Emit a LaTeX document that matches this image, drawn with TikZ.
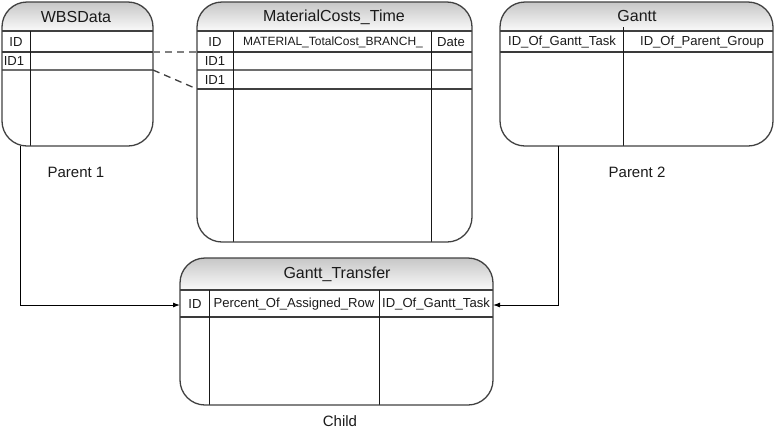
\documentclass[tikz,border=0pt]{standalone}
\usepackage{fontspec}
\setmainfont{Liberation Sans}
\usetikzlibrary{arrows.meta}
\definecolor{txt}{HTML}{1A1A1A}
\definecolor{bord}{HTML}{404040}
\definecolor{rowline}{HTML}{6E6E6E}
\tikzset{
  tbl/.style={draw=bord, line width=1.3pt, rounded corners=25pt, inner sep=0pt, outer sep=0pt, rectangle},
  band/.style={top color=black!22, bottom color=black!2},
  ttl/.style={text=txt, font=\fontsize{16}{18}\selectfont, inner sep=0pt},
  fld/.style={text=txt, font=\fontsize{13.1}{15}\selectfont, inner sep=0pt},
  lbl/.style={text=txt, font=\fontsize{15}{17}\selectfont, inner sep=0pt},
  sepline/.style={draw=bord, line width=1.1pt},
  hdline/.style={draw=bord!90!black, line width=2pt},
  rline/.style={draw=rowline, line width=1.8pt},
  colline/.style={draw=black!90, line width=0.85pt},
  conn/.style={draw=black, line width=0.9pt, -{Latex[length=7pt,width=5pt]}},
  dashA/.style={draw=black!50, line width=1.6pt, dash pattern=on 7pt off 5pt},
  dashB/.style={draw=black!75, line width=1.3pt, dash pattern=on 7pt off 5pt}
}
\begin{document}
\begin{tikzpicture}[x=1pt,y=-1pt]
\useasboundingbox (0,0) rectangle (776,432);

% ---------- WBSData ----------
\begin{scope}
\clip[rounded corners=25pt] (2,2) rectangle (153,146);
\shade[band] (2,2) rectangle (153,31);
\end{scope}
\draw[sepline] (2,31) -- (153,31);
\draw[hdline] (2,52) -- (153,52);
\draw[rline] (2,70) -- (153,70);
\draw[colline] (30,31) -- (30,146);
\node[tbl, minimum width=151pt, minimum height=144pt] (wbs) at (77.5,74) {};
\node[ttl] (wbsT) at (76,17) {WBSData};
\node[fld] (wbsID) at (16,42) {ID};
\node[fld] (wbsID1) at (14,61) {ID1};
\coordinate (wbsR1) at (153,52);
\coordinate (wbsR2) at (153,70);
\coordinate (wbsB) at (20,146);

% ---------- MaterialCosts_Time ----------
\begin{scope}
\clip[rounded corners=25pt] (197,2) rectangle (472,242);
\shade[band] (197,2) rectangle (472,31);
\end{scope}
\draw[sepline] (197,31) -- (472,31);
\draw[hdline] (197,52) -- (472,52);
\draw[rline] (197,70) -- (472,70);
\draw[sepline] (197,89) -- (472,89);
\draw[colline] (233,31) -- (233,242);
\draw[colline] (431,31) -- (431,242);
\node[tbl, minimum width=275pt, minimum height=240pt] (mct) at (334.5,122) {};
\node[ttl] (mctT) at (334,17) {MaterialCosts\_Time};
\node[fld] (mctID) at (215,42) {ID};
\node[fld, font=\fontsize{12}{14}\selectfont] (mctM) at (333,42) {MATERIAL\_TotalCost\_BRANCH\_};
\node[fld] (mctD) at (451,42) {Date};
\node[fld] (mctA) at (215,61) {ID1};
\node[fld] (mctB) at (215,80) {ID1};
\coordinate (mctL1) at (197,52);
\coordinate (mctL2) at (197,89);

% ---------- Gantt ----------
\begin{scope}
\clip[rounded corners=25pt] (500,2) rectangle (773,146);
\shade[band] (500,2) rectangle (773,31);
\end{scope}
\draw[sepline] (500,31) -- (773,31);
\draw[hdline] (500,52) -- (773,52);
\draw[colline] (623,27) -- (623,146);
\node[tbl, minimum width=273pt, minimum height=144pt] (gan) at (636.5,74) {};
\node[ttl] (ganT) at (637,16) {Gantt};
\node[fld] (ganA) at (562,42) {ID\_Of\_Gantt\_Task};
\node[fld] (ganB) at (702,42) {ID\_Of\_Parent\_Group};
\coordinate (ganBot) at (558,146);

% ---------- Gantt_Transfer ----------
\begin{scope}
\clip[rounded corners=25pt] (180,258) rectangle (493,405);
\shade[band] (180,258) rectangle (493,290);
\end{scope}
\draw[sepline] (180,290) -- (493,290);
\draw[hdline] (180,317) -- (493,317);
\draw[colline] (209,290) -- (209,405);
\draw[colline] (379,290) -- (379,405);
\node[tbl, minimum width=313pt, minimum height=147pt] (gt) at (336.5,331.5) {};
\node[ttl] (gtT) at (337,274) {Gantt\_Transfer};
\node[fld] (gtID) at (195,304) {ID};
\node[fld] (gtP) at (294,304) {Percent\_Of\_Assigned\_Row};
\node[fld] (gtG) at (436,304) {ID\_Of\_Gantt\_Task};
\coordinate (gtL) at (180,305);
\coordinate (gtR) at (493,305);

% ---------- labels ----------
\node[lbl] (p1) at (76,172) {Parent 1};
\node[lbl] (p2) at (637,172) {Parent 2};
\node[lbl] (ch) at (340,421) {Child};

% ---------- connectors ----------
\draw[dashA] (wbsR1) -- (mctL1);
\draw[dashB] (wbsR2) -- (mctL2);
\draw[conn] (wbsB) |- (gtL);
\draw[conn] (ganBot) |- (gtR);
\end{tikzpicture}
\end{document}
